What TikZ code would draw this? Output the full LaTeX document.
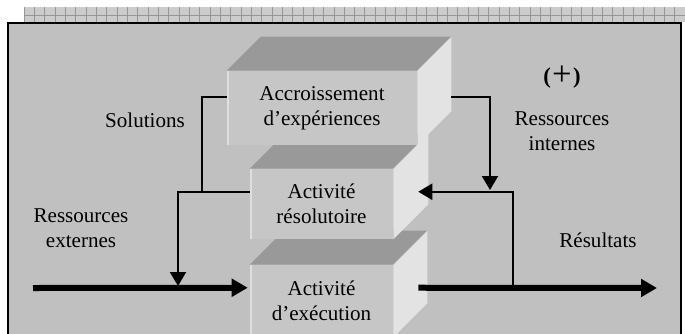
\documentclass[tikz,border=0pt]{standalone}
\usepackage{fontspec}
\setmainfont{Liberation Serif}
\usetikzlibrary{arrows.meta,calc}
\definecolor{bggray}{RGB}{192,192,192}
\definecolor{frontgray}{RGB}{198,198,198}
\definecolor{topgray}{RGB}{153,153,153}
\definecolor{sidegray}{RGB}{227,227,227}
\definecolor{edgegray}{RGB}{222,222,222}
\definecolor{patfill}{RGB}{204,204,204}
\definecolor{patline}{RGB}{150,150,150}
\begin{document}
\begin{tikzpicture}[x=0.75pt,y=-0.75pt,
  lbl/.style={font=\fontsize{15.8}{18.75}\selectfont, align=center, inner sep=0pt},
  front/.style={lbl, fill=frontgray},
  topface/.style={fill=topgray},
  sideface/.style={fill=sidegray},
  litedge/.style={edgegray, line width=1.5pt},
  thinline/.style={line width=1.5pt},
  thinarrow/.style={thinline, -{Triangle[length=10.5pt,width=12pt]}},
  thickarrow/.style={line width=4.5pt, -{Triangle[length=12pt,width=13pt]}}]
\useasboundingbox (0,0) rectangle (685,333);
\clip (0,0) rectangle (685,333);
% patterned band
\fill[patfill] (24,7) rectangle (685,22);
\foreach \i in {0,...,64} \draw[patline, line width=0.6pt] ({24+\i*10.33},7) -- ({24+\i*10.33},22);
\draw[patline, line width=0.6pt] (24,15) -- (685,15);
% frame
\draw[line width=2pt, fill=bggray] (8,23) rectangle (681,400);
% bottom box
\node[front, minimum width=107.25pt, minimum height=54pt] (botF) at (321.5,301) {Activité\\d’exécution};
\fill[topface] (botF.north west) -- ++(34,-34) -- ($(botF.north east)+(34,-34)$) -- (botF.north east) -- cycle;
\fill[sideface] (botF.north east) -- ++(34,-34) -- ($(botF.south east)+(34,-34)$) -- (botF.south east) -- cycle;
\draw[litedge] ([xshift=0.75pt]botF.north west) -- ([xshift=0.75pt]botF.south west);
% middle box
\node[front, minimum width=107.25pt, minimum height=52.5pt] (midF) at (321.5,204) {Activité\\résolutoire};
\fill[topface] (midF.north west) -- ++(35,-35) -- ($(midF.north east)+(35,-35)$) -- (midF.north east) -- cycle;
\fill[sideface] (midF.north east) -- ++(35,-35) -- ($(midF.south east)+(35,-35)$) -- (midF.south east) -- cycle;
\draw[litedge] ([xshift=0.75pt]midF.north west) -- ([xshift=0.75pt]midF.south west);
% top box
\node[front, minimum width=142.5pt, minimum height=55.5pt] (topF) at (322,108) {Accroissement\\d’expériences};
\fill[topface] (topF.north west) -- ++(34,-34) -- ($(topF.north east)+(34,-34)$) -- (topF.north east) -- cycle;
\fill[sideface] (topF.north east) -- ++(34,-34) -- ($(topF.south east)+(34,-34)$) -- (topF.south east) -- cycle;
\draw[litedge] ([xshift=0.75pt]topF.north west) -- ([xshift=0.75pt]topF.south west);
% labels
\node[lbl] (sol) at (145,120) {Solutions};
\node[lbl] (rext) at (81,228) {Ressources\\externes};
\node[lbl, font=\fontsize{17}{20}\selectfont] (plus) at (562,77) {{\bfseries(}\kern1pt\raisebox{-2pt}{\fontsize{26}{26}\selectfont +}\kern1pt{\bfseries)}};
\node[lbl] (rint) at (562,131) {Ressources\\internes};
\node[lbl] (res) at (598,240) {Résultats};
% connector points
\coordinate (j1) at (202,192);
\coordinate (dropEnd) at (178,286);
\coordinate (j2) at (490,190);
\coordinate (rise) at (513,288);
\coordinate (startL) at (33,288);
\coordinate (endR) at (657,288);
% thick flow
\draw[thickarrow] (startL) -- ($(botF.north west)+(-2,23)$);
\draw[thickarrow] ($(botF.north east)+(25,23)$) -- (endR);
% left loop (solutions)
\draw[thinline] ($(topF.north west)+(0,26)$) -| (j1);
\draw[thinarrow] ($(midF.north west)+(0,23)$) -| (dropEnd);
% right loop (internal resources)
\draw[thinarrow] ($(topF.north east)+(34,26)$) -| (j2);
\draw[thinarrow] (rise) |- ($(midF.north east)+(25,23)$);
\end{tikzpicture}
\end{document}
